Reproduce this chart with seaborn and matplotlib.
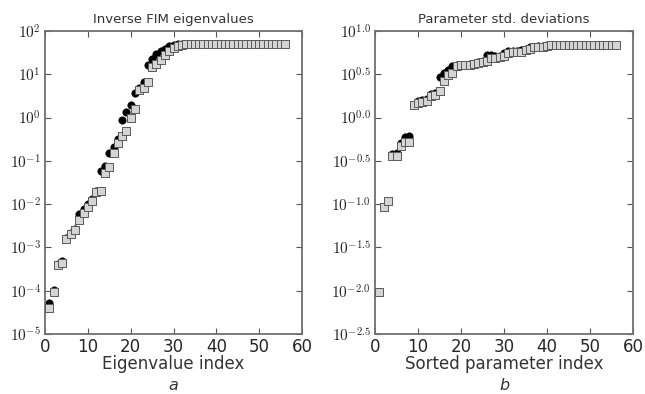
import matplotlib
matplotlib.use("Agg")
import matplotlib.pyplot as plt
import matplotlib.ticker as mticker
import numpy as np
import pandas as pd
import seaborn as sns

# index of each eigenvalue / sorted parameter
index = list(range(1, 57))

# panel a: log10 of inverse FIM eigenvalues
eig_circles_log = [-4.28, -3.98, -3.38, -3.32, -2.78, -2.67, -2.57, -2.23, -2.12, -1.99,
                   -1.88, -1.70, -1.24, -1.12, -0.83, -0.68, -0.50, -0.06, 0.13, 0.28,
                   0.56, 0.69, 0.82, 1.21, 1.36, 1.46, 1.54, 1.59, 1.65, 1.68,
                   1.70, 1.70, 1.70, 1.70, 1.70, 1.70, 1.70, 1.70, 1.70, 1.70,
                   1.70, 1.70, 1.70, 1.70, 1.70, 1.70, 1.70, 1.70, 1.70, 1.70,
                   1.70, 1.70, 1.70, 1.70, 1.70, 1.70]
eig_squares_log = [-4.41, -4.03, -3.40, -3.37, -2.80, -2.69, -2.59, -2.36, -2.21, -2.06,
                   -1.92, -1.72, -1.69, -1.29, -1.15, -0.81, -0.59, -0.43, -0.30, 0.00,
                   0.19, 0.63, 0.69, 0.82, 1.17, 1.24, 1.34, 1.44, 1.53, 1.60,
                   1.65, 1.68, 1.70, 1.70, 1.70, 1.70, 1.70, 1.70, 1.70, 1.70,
                   1.70, 1.70, 1.70, 1.70, 1.70, 1.70, 1.70, 1.70, 1.70, 1.70,
                   1.70, 1.70, 1.70, 1.70, 1.70, 1.70]

# panel b: log10 of parameter std. deviations
std_circles_log = [-2.01, -1.03, -0.96, -0.42, -0.41, -0.29, -0.23, -0.21, 0.15, 0.19,
                   0.20, 0.22, 0.27, 0.28, 0.47, 0.52, 0.545, 0.60, 0.61, 0.61,
                   0.61, 0.62, 0.62, 0.64, 0.65, 0.72, 0.72, 0.71, 0.71, 0.75,
                   0.77, 0.77, 0.77, 0.78, 0.79, 0.81, 0.82, 0.825, 0.83, 0.84,
                   0.84, 0.84, 0.84, 0.84, 0.84, 0.84, 0.84, 0.84, 0.84, 0.84,
                   0.84, 0.84, 0.84, 0.84, 0.84, 0.84]
std_squares_log = [-2.01, -1.03, -0.96, -0.44, -0.44, -0.33, -0.28, -0.28, 0.14, 0.17,
                   0.18, 0.19, 0.25, 0.26, 0.31, 0.42, 0.49, 0.51, 0.60, 0.61,
                   0.61, 0.61, 0.615, 0.63, 0.64, 0.65, 0.69, 0.69, 0.70, 0.715,
                   0.75, 0.76, 0.76, 0.76, 0.78, 0.79, 0.81, 0.815, 0.82, 0.83,
                   0.84, 0.84, 0.84, 0.84, 0.84, 0.84, 0.84, 0.84, 0.84, 0.84,
                   0.84, 0.84, 0.84, 0.84, 0.84, 0.84]

eig_ticks = [-5, -4, -3, -2, -1, 0, 1, 2]
std_ticks = [-2.5, -2.0, -1.5, -1.0, -0.5, 0.0, 0.5, 1.0]

sns.set_style("ticks")
plt.rcParams["mathtext.fontset"] = "cm"
plt.rcParams["font.family"] = ["DejaVu Sans"]

fig = plt.figure(figsize=(6.45, 3.94), dpi=100)
ax_a = fig.add_axes([45 / 645, 1 - 334 / 394, 257 / 645, 303 / 394])
ax_b = fig.add_axes([375 / 645, 1 - 334 / 394, 258 / 645, 303 / 394])

panels = [
    (ax_a, eig_circles_log, eig_squares_log, eig_ticks, "Inverse FIM eigenvalues",
     "Eigenvalue index", "a", "{:d}"),
    (ax_b, std_circles_log, std_squares_log, std_ticks, "Parameter std. deviations",
     "Sorted parameter index", "b", "{:.1f}"),
]

for ax, circ, sq, ticks, title, xlabel, letter, fmt in panels:
    df = pd.DataFrame({"idx": index,
                       "circ": 10.0 ** np.array(circ),
                       "sq": 10.0 ** np.array(sq)})
    sns.scatterplot(data=df, x="idx", y="circ", ax=ax, marker="o", s=28,
                    color="black", edgecolor="black", linewidth=0.5, zorder=2)
    sns.scatterplot(data=df, x="idx", y="sq", ax=ax, marker="s", s=32,
                    color="#d4d4d4", edgecolor="#5a5a5a", linewidth=0.7, zorder=3)
    ax.set_yscale("log")
    ax.set_xlim(0, 60)
    ax.set_ylim(10.0 ** ticks[0], 10.0 ** ticks[-1])
    ax.set_xticks([0, 10, 20, 30, 40, 50, 60])
    ax.set_yticks([10.0 ** t for t in ticks])
    labels = []
    for t in ticks:
        s = fmt.format(int(t)) if fmt == "{:d}" else fmt.format(t)
        s = s.replace("-", "{-}")
        labels.append(r"$10^{%s}$" % s)
    ax.set_yticklabels(labels)
    ax.yaxis.set_minor_locator(mticker.NullLocator())
    ax.tick_params(axis="both", which="major", direction="in", length=4, width=0.8,
                   color="#555555", top=True, right=True)
    ax.tick_params(axis="x", labelsize=12, pad=3)
    ax.tick_params(axis="y", labelsize=11, pad=3)
    for sp in ax.spines.values():
        sp.set_color("#707070")
        sp.set_linewidth(1.3)
    ax.set_title(title, fontsize=9.5, color="#333333", pad=6)
    ax.set_xlabel(xlabel, fontsize=12, color="#333333", labelpad=-1)
    ax.set_ylabel("")
    pos = ax.get_position()
    fig.text((pos.x0 + pos.x1) / 2, 1 - 385 / 394, letter, ha="center", va="center",
             fontsize=11.5, style="italic", color="#333333")

fig.savefig("out.png", dpi=100)
